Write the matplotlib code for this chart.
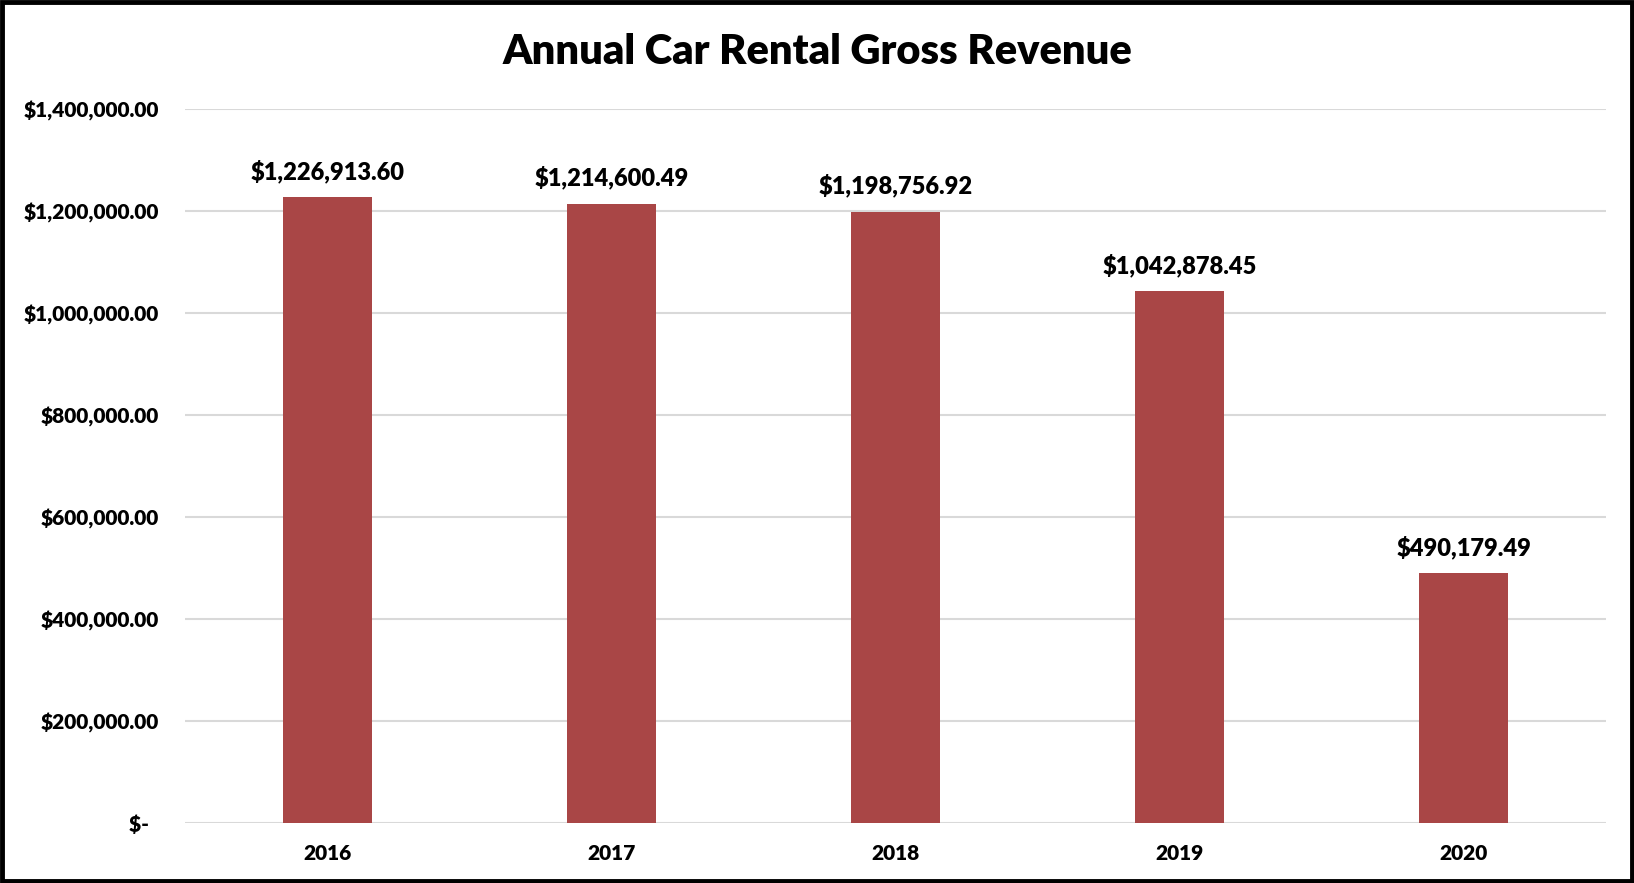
import matplotlib.pyplot as plt
from matplotlib.patches import Rectangle
from matplotlib.ticker import FuncFormatter

years = ['2016', '2017', '2018', '2019', '2020']
revenue = [1226913.60, 1214600.49, 1198756.92, 1042878.45, 490179.49]
y_ticks = [0, 200000, 400000, 600000, 800000, 1000000, 1200000, 1400000]

bar_color = '#A94646'
grid_color = '#D9D9D9'

plt.rcParams['font.family'] = ['Lato', 'DejaVu Sans']

fig = plt.figure(figsize=(16.34, 8.83), dpi=100)
ax = fig.add_axes([0.1132, 0.0680, 0.8697, 0.8086])

x = range(len(years))
bars = ax.bar(x, revenue, width=0.313, color=bar_color, zorder=3)

# money format like the spreadsheet: "$-" for zero
def money(v, pos=None):
    if v == 0:
        return '$-  '
    return '${:,.2f}'.format(v)

ax.bar_label(bars, labels=[money(v) for v in revenue], padding=10,
             fontsize=17, fontweight='heavy', color='black')

ax.set_xlim(-0.5, len(years) - 0.5)
ax.set_ylim(0, 1400000)
ax.set_yticks(y_ticks)
ax.yaxis.set_major_formatter(FuncFormatter(money))
ax.set_xticks(list(x))
ax.set_xticklabels(years)
ax.tick_params(axis='both', length=0, labelsize=15, colors='black')
ax.tick_params(axis='y', pad=19)
ax.tick_params(axis='x', pad=15)
for lab in ax.get_xticklabels() + ax.get_yticklabels():
    lab.set_fontweight('heavy')

ax.grid(axis='y', color=grid_color, linewidth=1.5, zorder=0)
for s in ax.spines.values():
    s.set_visible(False)

fig.text(0.5005, 0.941, 'Annual Car Rental Gross Revenue', ha='center',
         va='center', fontsize=30, fontweight='heavy')

# black frame around the whole chart
fig.patches.append(Rectangle((0.0015, 0.0025), 0.997, 0.995, transform=fig.transFigure,
                             fill=False, edgecolor='black', linewidth=3.5))

fig.savefig('out.png', dpi=100)
